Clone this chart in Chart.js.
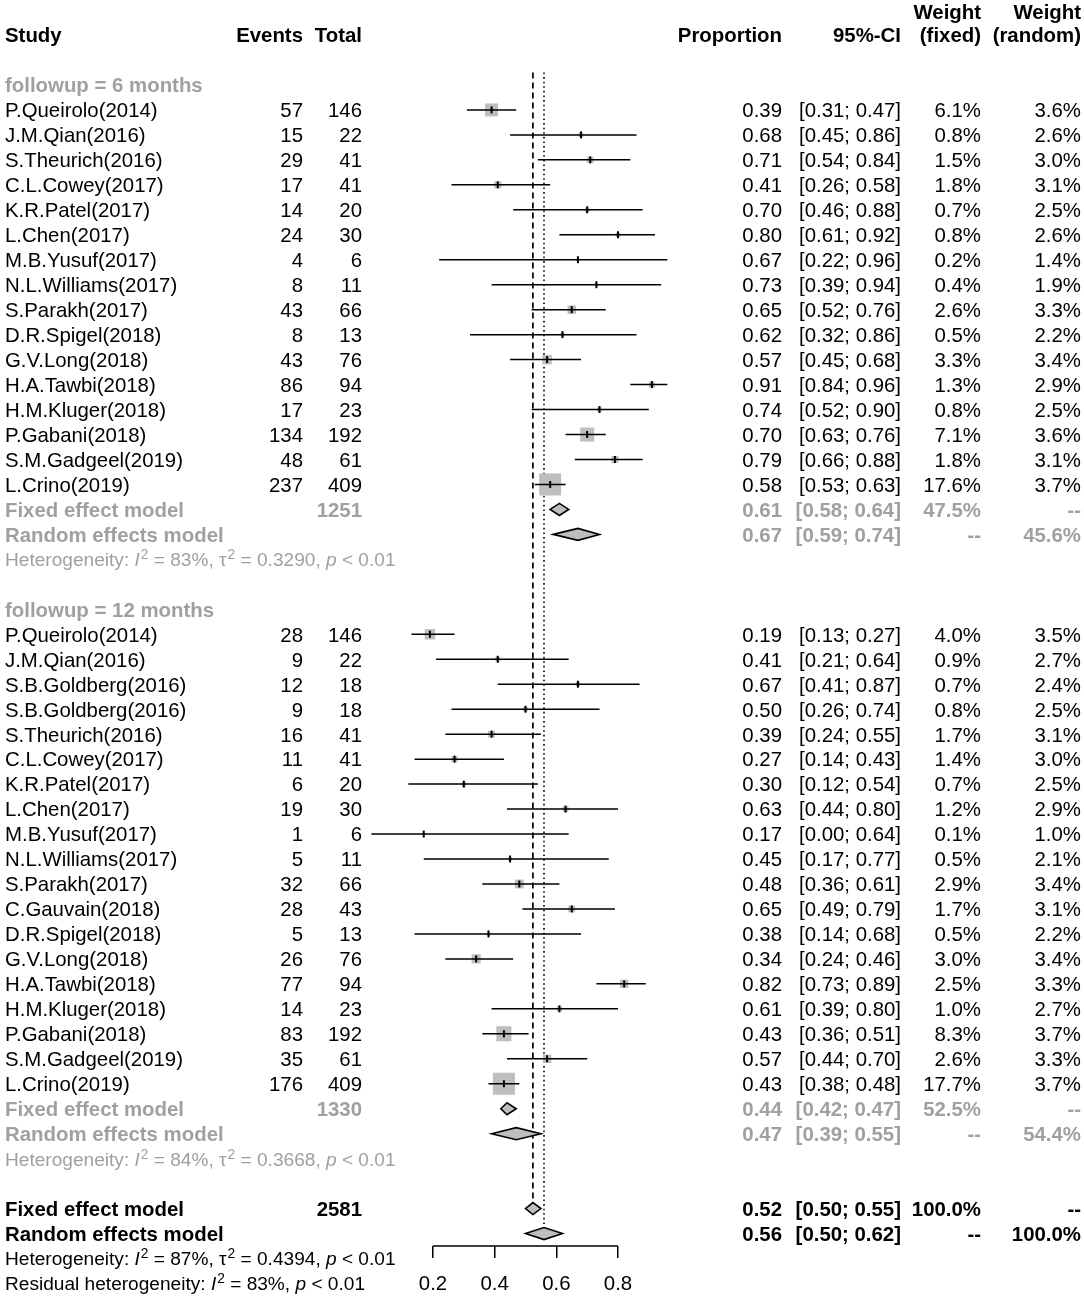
<!DOCTYPE html>
<html>
<head>
<meta charset="utf-8">
<script src="https://cdn.jsdelivr.net/npm/chart.js@4.4.1/dist/chart.umd.min.js"></script>
<style>
  html, body { margin: 0; padding: 0; background: #fff; }
  #wrap { width: 1084px; height: 1297px; }
</style>
</head>
<body>
<div id="wrap"><canvas id="forest" width="1084" height="1297"></canvas></div>
<script>
// followup = 6 months
const study6 = ["P.Queirolo(2014)", "J.M.Qian(2016)", "S.Theurich(2016)", "C.L.Cowey(2017)",
  "K.R.Patel(2017)", "L.Chen(2017)", "M.B.Yusuf(2017)", "N.L.Williams(2017)", "S.Parakh(2017)",
  "D.R.Spigel(2018)", "G.V.Long(2018)", "H.A.Tawbi(2018)", "H.M.Kluger(2018)", "P.Gabani(2018)",
  "S.M.Gadgeel(2019)", "L.Crino(2019)"];
const events6 = [57, 15, 29, 17, 14, 24, 4, 8, 43, 8, 43, 86, 17, 134, 48, 237];
const total6 = [146, 22, 41, 41, 20, 30, 6, 11, 66, 13, 76, 94, 23, 192, 61, 409];
const prop6 = [0.39, 0.68, 0.71, 0.41, 0.70, 0.80, 0.67, 0.73, 0.65, 0.62, 0.57, 0.91, 0.74, 0.70, 0.79, 0.58];
const lower6 = [0.31, 0.45, 0.54, 0.26, 0.46, 0.61, 0.22, 0.39, 0.52, 0.32, 0.45, 0.84, 0.52, 0.63, 0.66, 0.53];
const upper6 = [0.47, 0.86, 0.84, 0.58, 0.88, 0.92, 0.96, 0.94, 0.76, 0.86, 0.68, 0.96, 0.90, 0.76, 0.88, 0.63];
const wFixed6 = [6.1, 0.8, 1.5, 1.8, 0.7, 0.8, 0.2, 0.4, 2.6, 0.5, 3.3, 1.3, 0.8, 7.1, 1.8, 17.6];
const wRandom6 = [3.6, 2.6, 3.0, 3.1, 2.5, 2.6, 1.4, 1.9, 3.3, 2.2, 3.4, 2.9, 2.5, 3.6, 3.1, 3.7];

// followup = 12 months
const study12 = ["P.Queirolo(2014)", "J.M.Qian(2016)", "S.B.Goldberg(2016)", "S.B.Goldberg(2016)",
  "S.Theurich(2016)", "C.L.Cowey(2017)", "K.R.Patel(2017)", "L.Chen(2017)", "M.B.Yusuf(2017)",
  "N.L.Williams(2017)", "S.Parakh(2017)", "C.Gauvain(2018)", "D.R.Spigel(2018)", "G.V.Long(2018)",
  "H.A.Tawbi(2018)", "H.M.Kluger(2018)", "P.Gabani(2018)", "S.M.Gadgeel(2019)", "L.Crino(2019)"];
const events12 = [28, 9, 12, 9, 16, 11, 6, 19, 1, 5, 32, 28, 5, 26, 77, 14, 83, 35, 176];
const total12 = [146, 22, 18, 18, 41, 41, 20, 30, 6, 11, 66, 43, 13, 76, 94, 23, 192, 61, 409];
const prop12 = [0.19, 0.41, 0.67, 0.50, 0.39, 0.27, 0.30, 0.63, 0.17, 0.45, 0.48, 0.65, 0.38, 0.34, 0.82, 0.61, 0.43, 0.57, 0.43];
const lower12 = [0.13, 0.21, 0.41, 0.26, 0.24, 0.14, 0.12, 0.44, 0.00, 0.17, 0.36, 0.49, 0.14, 0.24, 0.73, 0.39, 0.36, 0.44, 0.38];
const upper12 = [0.27, 0.64, 0.87, 0.74, 0.55, 0.43, 0.54, 0.80, 0.64, 0.77, 0.61, 0.79, 0.68, 0.46, 0.89, 0.80, 0.51, 0.70, 0.48];
const wFixed12 = [4.0, 0.9, 0.7, 0.8, 1.7, 1.4, 0.7, 1.2, 0.1, 0.5, 2.9, 1.7, 0.5, 3.0, 2.5, 1.0, 8.3, 2.6, 17.7];
const wRandom12 = [3.5, 2.7, 2.4, 2.5, 3.1, 3.0, 2.5, 2.9, 1.0, 2.1, 3.4, 3.1, 2.2, 3.4, 3.3, 2.7, 3.7, 3.3, 3.7];

// pooled rows: [fixed effect, random effects]
const modelLabels = ["Fixed effect model", "Random effects model"];
const sumTotal6 = 1251;
const sumProp6 = [0.61, 0.67];
const sumLower6 = [0.58, 0.59];
const sumUpper6 = [0.64, 0.74];
const sumWFixed6 = [47.5, null];
const sumWRandom6 = [null, 45.6];

const sumTotal12 = 1330;
const sumProp12 = [0.44, 0.47];
const sumLower12 = [0.42, 0.39];
const sumUpper12 = [0.47, 0.55];
const sumWFixed12 = [52.5, null];
const sumWRandom12 = [null, 54.4];

const sumTotalAll = 2581;
const sumPropAll = [0.524, 0.56];
const sumLowerAll = [0.50, 0.50];
const sumUpperAll = [0.55, 0.62];
const sumWFixedAll = [100.0, null];
const sumWRandomAll = [null, 100.0];

// heterogeneity: [6 months, 12 months, overall]
const hetI2 = [83, 84, 87];
const hetTau2 = ["0.3290", "0.3668", "0.4394"];
const residI2 = 83;

const xTicks = [0.2, 0.4, 0.6, 0.8];

// ---- layout ----
const FONT = "'Liberation Sans', Arial, Helvetica, sans-serif";
const FS = 20.4;
const FS_HET = 19.1;
const GRAY = "#a0a0a0";
const COL = { study: 5, events: 303, total: 362, prop: 782, ci: 901, wf: 981, wr: 1081 };
const DH = 0.24;       // diamond half height (rows)
const AXIS_ROW = 48.5; // bottom of plotting area

const ROW_G6 = 2;
const ROW_S6 = 3;
const ROW_SUM6 = ROW_S6 + study6.length;
const ROW_HET6 = ROW_SUM6 + 2;
const ROW_G12 = ROW_HET6 + 2;
const ROW_S12 = ROW_G12 + 1;
const ROW_SUM12 = ROW_S12 + study12.length;
const ROW_HET12 = ROW_SUM12 + 2;
const ROW_ALL = ROW_HET12 + 2;
const ROW_HETALL = ROW_ALL + 2;

const squares = [];
const cis = [];
function addStudies(props, lo, hi, wf, firstRow) {
  props.forEach((p, i) => {
    const r = firstRow + i;
    squares.push({ x: p, y: r, w: wf[i] });
    cis.push({ x: lo[i], y: r }, { x: hi[i], y: r }, { x: null, y: null });
  });
}
addStudies(prop6, lower6, upper6, wFixed6, ROW_S6);
addStudies(prop12, lower12, upper12, wFixed12, ROW_S12);

const diamonds = [];
function addDiamonds(est, lo, hi, firstRow) {
  est.forEach((e, i) => diamonds.push({ est: e, lo: lo[i], hi: hi[i], row: firstRow + i }));
}
addDiamonds(sumProp6, sumLower6, sumUpper6, ROW_SUM6);
addDiamonds(sumProp12, sumLower12, sumUpper12, ROW_SUM12);
addDiamonds(sumPropAll, sumLowerAll, sumUpperAll, ROW_ALL);

const f2 = v => v.toFixed(2);
const pct = v => (v == null ? "--" : v.toFixed(1) + "%");

function drawText(ctx, str, x, y, align, bold, color, size) {
  const s = size || FS;
  ctx.font = (bold ? "bold " : "") + s + "px " + FONT;
  ctx.fillStyle = color;
  ctx.textAlign = align;
  ctx.textBaseline = "alphabetic";
  ctx.fillText(str, x, y + 0.36 * s);
}

function drawHet(ctx, parts, x, y, color) {
  ctx.fillStyle = color;
  ctx.textAlign = "left";
  ctx.textBaseline = "alphabetic";
  let cx = x;
  const base = y + 0.36 * FS_HET;
  parts.forEach(p => {
    const size = p.sup ? FS_HET * 0.72 : FS_HET;
    ctx.font = (p.it ? "italic " : "") + size + "px " + FONT;
    if (p.sup) cx += 1;
    ctx.fillText(p.t, cx, p.sup ? base - 7 : base);
    cx += ctx.measureText(p.t).width;
  });
}

function hetParts(label, i2, tau2) {
  const parts = [{ t: label }, { t: "I", it: true }, { t: "2", sup: true },
    { t: " = " + i2 + "%, " }];
  if (tau2 != null) {
    parts.push({ t: "\u03c4" }, { t: "2", sup: true }, { t: " = " + tau2 + ", " });
  }
  parts.push({ t: "p", it: true }, { t: " < 0.01" });
  return parts;
}

const tablePlugin = {
  id: "forestTable",
  afterDatasetsDraw(chart) {
    const ctx = chart.ctx;
    const xs = chart.scales.x, ys = chart.scales.y;
    ctx.save();
    diamonds.forEach(d => {
      ctx.beginPath();
      ctx.moveTo(xs.getPixelForValue(d.lo), ys.getPixelForValue(d.row));
      ctx.lineTo(xs.getPixelForValue(d.est), ys.getPixelForValue(d.row - DH));
      ctx.lineTo(xs.getPixelForValue(d.hi), ys.getPixelForValue(d.row));
      ctx.lineTo(xs.getPixelForValue(d.est), ys.getPixelForValue(d.row + DH));
      ctx.closePath();
      ctx.fillStyle = "#bebebe";
      ctx.fill();
      ctx.lineWidth = 1.6;
      ctx.strokeStyle = "#000";
      ctx.stroke();
    });
    ctx.restore();
  },
  afterDraw(chart) {
    const ctx = chart.ctx;
    const ys = chart.scales.y;
    const Y = r => ys.getPixelForValue(r);
    ctx.save();

    drawText(ctx, "Study", COL.study, Y(0), "left", true, "#000");
    drawText(ctx, "Events", COL.events, Y(0), "right", true, "#000");
    drawText(ctx, "Total", COL.total, Y(0), "right", true, "#000");
    drawText(ctx, "Proportion", COL.prop, Y(0), "right", true, "#000");
    drawText(ctx, "95%-CI", COL.ci, Y(0), "right", true, "#000");
    drawText(ctx, "Weight", COL.wf, Y(-0.94), "right", true, "#000");
    drawText(ctx, "(fixed)", COL.wf, Y(0), "right", true, "#000");
    drawText(ctx, "Weight", COL.wr, Y(-0.94), "right", true, "#000");
    drawText(ctx, "(random)", COL.wr, Y(0), "right", true, "#000");

    function studyRows(names, ev, tot, p, lo, hi, wf, wr, first) {
      names.forEach((n, i) => {
        const y = Y(first + i);
        drawText(ctx, n, COL.study, y, "left", false, "#000");
        drawText(ctx, String(ev[i]), COL.events, y, "right", false, "#000");
        drawText(ctx, String(tot[i]), COL.total, y, "right", false, "#000");
        drawText(ctx, f2(p[i]), COL.prop, y, "right", false, "#000");
        drawText(ctx, "[" + f2(lo[i]) + "; " + f2(hi[i]) + "]", COL.ci, y, "right", false, "#000");
        drawText(ctx, pct(wf[i]), COL.wf, y, "right", false, "#000");
        drawText(ctx, pct(wr[i]), COL.wr, y, "right", false, "#000");
      });
    }
    function sumRows(tot, p, lo, hi, wf, wr, first, color) {
      modelLabels.forEach((m, i) => {
        const y = Y(first + i);
        drawText(ctx, m, COL.study, y, "left", true, color);
        if (i === 0) drawText(ctx, String(tot), COL.total, y, "right", true, color);
        drawText(ctx, f2(p[i]), COL.prop, y, "right", true, color);
        drawText(ctx, "[" + f2(lo[i]) + "; " + f2(hi[i]) + "]", COL.ci, y, "right", true, color);
        drawText(ctx, pct(wf[i]), COL.wf, y, "right", true, color);
        drawText(ctx, pct(wr[i]), COL.wr, y, "right", true, color);
      });
    }

    drawText(ctx, "followup = 6 months", COL.study, Y(ROW_G6), "left", true, GRAY);
    studyRows(study6, events6, total6, prop6, lower6, upper6, wFixed6, wRandom6, ROW_S6);
    sumRows(sumTotal6, sumProp6, sumLower6, sumUpper6, sumWFixed6, sumWRandom6, ROW_SUM6, GRAY);
    drawHet(ctx, hetParts("Heterogeneity: ", hetI2[0], hetTau2[0]), COL.study, Y(ROW_HET6), GRAY);

    drawText(ctx, "followup = 12 months", COL.study, Y(ROW_G12), "left", true, GRAY);
    studyRows(study12, events12, total12, prop12, lower12, upper12, wFixed12, wRandom12, ROW_S12);
    sumRows(sumTotal12, sumProp12, sumLower12, sumUpper12, sumWFixed12, sumWRandom12, ROW_SUM12, GRAY);
    drawHet(ctx, hetParts("Heterogeneity: ", hetI2[1], hetTau2[1]), COL.study, Y(ROW_HET12), GRAY);

    sumRows(sumTotalAll, sumPropAll, sumLowerAll, sumUpperAll, sumWFixedAll, sumWRandomAll, ROW_ALL, "#000");
    drawHet(ctx, hetParts("Heterogeneity: ", hetI2[2], hetTau2[2]), COL.study, Y(ROW_HETALL), "#000");
    drawHet(ctx, hetParts("Residual heterogeneity: ", residI2, null), COL.study, Y(ROW_HETALL + 1), "#000");

    ctx.restore();
  }
};

const SQ_K = 22 / Math.sqrt(17.6);

new Chart(document.getElementById("forest"), {
  type: "scatter",
  data: {
    datasets: [
      {
        label: "axis",
        data: [{ x: xTicks[0], y: AXIS_ROW }, { x: xTicks[xTicks.length - 1], y: AXIS_ROW }],
        showLine: true, borderColor: "#000", borderWidth: 1.5,
        pointRadius: 0, clip: false, order: 11
      },
      {
        label: "fixed",
        data: [{ x: sumPropAll[0], y: 1.5 }, { x: sumPropAll[0], y: ROW_ALL - DH }],
        showLine: true, borderColor: "#000", borderWidth: 1.7, borderDash: [6, 4],
        pointRadius: 0, clip: false, order: 10
      },
      {
        label: "random",
        data: [{ x: sumPropAll[1], y: 1.5 }, { x: sumPropAll[1], y: ROW_ALL + 1 - DH }],
        showLine: true, borderColor: "#000", borderWidth: 1.6, borderDash: [1.6, 3],
        pointRadius: 0, clip: false, order: 9
      },
      {
        label: "squares",
        data: squares,
        pointStyle: "rect",
        pointRadius: c => (c.raw ? SQ_K * Math.sqrt(c.raw.w) / (2 * Math.SQRT1_2) : 0),
        backgroundColor: "#bebebe", borderWidth: 0, clip: false, order: 5
      },
      {
        label: "ci",
        data: cis,
        showLine: true, spanGaps: false, borderColor: "#000", borderWidth: 1.5,
        pointRadius: 0, clip: false, order: 4
      },
      {
        label: "est",
        data: squares,
        pointStyle: "line", rotation: 90, pointRadius: 3.5,
        borderColor: "#000", borderWidth: 2, clip: false, order: 3
      }
    ]
  },
  options: {
    responsive: false,
    animation: false,
    events: [],
    layout: { padding: { left: 371.33, right: 404.33, top: 35, bottom: 0 } },
    plugins: { legend: { display: false }, tooltip: { enabled: false } },
    scales: {
      x: {
        type: "linear", min: 0, max: 1, position: "bottom",
        afterBuildTicks: s => { s.ticks = xTicks.map(v => ({ value: v })); },
        afterFit: s => { s.height = 1297 - 35 - AXIS_ROW * 24.97; },
        border: { display: false },
        grid: { drawOnChartArea: false, drawTicks: true, tickLength: 12, color: "#000", lineWidth: 1.5 },
        ticks: {
          color: "#000", padding: 14, maxRotation: 0,
          font: { family: FONT, size: FS },
          callback: v => v.toFixed(1)
        }
      },
      y: { type: "linear", min: 0, max: AXIS_ROW, reverse: true, display: false }
    }
  },
  plugins: [tablePlugin]
});
</script>
</body>
</html>
